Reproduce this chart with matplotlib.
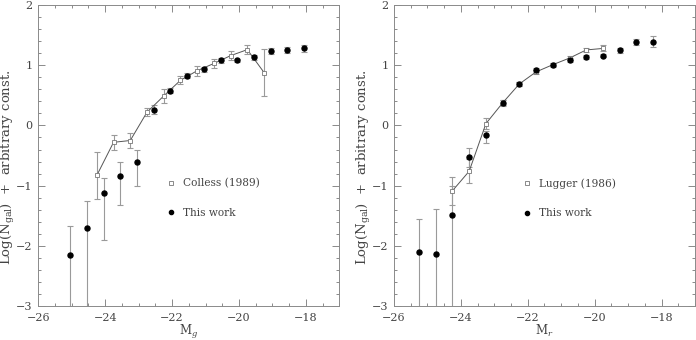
import numpy as np
import matplotlib
matplotlib.use("Agg")
import matplotlib.pyplot as plt
from matplotlib.ticker import MultipleLocator
from matplotlib.lines import Line2D

plt.rcParams['font.family'] = ['DejaVu Serif']
plt.rcParams['mathtext.fontset'] = 'dejavuserif'

# g band: Colless (1989) comparison
colless_mag = [-24.25, -23.75, -23.25, -22.75, -22.25, -21.75, -21.25, -20.75, -20.25, -19.75, -19.25]
colless_lf = [-0.83, -0.28, -0.25, 0.22, 0.49, 0.75, 0.91, 1.03, 1.16, 1.26, 0.88]
colless_err = [0.39, 0.12, 0.12, 0.07, 0.11, 0.065, 0.08, 0.07, 0.08, 0.08, 0.39]

g_mag = [-25.05, -24.55, -24.05, -23.55, -23.05, -22.55, -22.05, -21.55, -21.05, -20.55,
         -20.05, -19.55, -19.05, -18.55, -18.05]
g_lf = [-2.15, -1.70, -1.13, -0.84, -0.61, 0.265, 0.575, 0.825, 0.93, 1.085,
        1.08, 1.13, 1.235, 1.26, 1.28]
g_err_lo = [1.2, 1.5, 0.77, 0.48, 0.40, 0.08, 0.04, 0.04, 0.04, 0.04, 0.03, 0.04, 0.05, 0.05, 0.06]
g_err_hi = [0.48, 0.45, 0.26, 0.225, 0.21, 0.08, 0.04, 0.04, 0.04, 0.04, 0.03, 0.04, 0.05, 0.05, 0.06]

# r band: Lugger (1986) comparison
lugger_mag = [-24.25, -23.75, -23.25, -22.75, -22.25, -21.75, -21.25, -20.75, -20.25, -19.75]
lugger_lf = [-1.085, -0.76, 0.03, 0.375, 0.69, 0.89, 1.01, 1.12, 1.255, 1.28]
lugger_err = [0.23, 0.2, 0.09, 0.04, 0.03, 0.03, 0.03, 0.03, 0.03, 0.05]

r_mag = [-25.25, -24.75, -24.25, -23.75, -23.25, -22.75, -22.25, -21.75, -21.25, -20.75,
         -20.25, -19.75, -19.25, -18.75, -18.25]
r_lf = [-2.11, -2.14, -1.48, -0.52, -0.155, 0.375, 0.685, 0.925, 1.0, 1.09,
        1.14, 1.16, 1.25, 1.38, 1.39]
r_err_lo = [1.2, 1.2, 1.8, 0.17, 0.14, 0.05, 0.03, 0.03, 0.03, 0.03, 0.03, 0.03, 0.04, 0.05, 0.09]
r_err_hi = [0.55, 0.75, 0.47, 0.15, 0.07, 0.05, 0.03, 0.03, 0.03, 0.03, 0.03, 0.03, 0.04, 0.05, 0.09]

axis_col = '#8a8a8a'
text_col = '#444444'
err_col = '#9a9a9a'


def panel(ax, ref_mag, ref_lf, ref_err, ref_label, mag, lf, err_lo, err_hi, xlab):
    ax.errorbar(ref_mag, ref_lf, yerr=ref_err, fmt='none', ecolor=err_col,
                elinewidth=0.8, capsize=2, capthick=0.8, zorder=2)
    ax.errorbar(mag, lf, yerr=[err_lo, err_hi], fmt='none', ecolor=err_col,
                elinewidth=0.8, capsize=2, capthick=0.8, zorder=2)
    ax.plot(ref_mag, ref_lf, color='#555555', lw=0.7, zorder=3)
    ax.plot(ref_mag, ref_lf, ls='none', marker='s', ms=3, mfc='white',
            mec='#777777', mew=0.6, zorder=4)
    ax.plot(mag, lf, ls='none', marker='o', ms=3.6, color='black', zorder=5)

    ax.set_xlim(-26, -17)
    ax.set_ylim(-3, 2)
    ax.xaxis.set_major_locator(MultipleLocator(2))
    ax.xaxis.set_minor_locator(MultipleLocator(0.5))
    ax.yaxis.set_major_locator(MultipleLocator(1))
    ax.yaxis.set_minor_locator(MultipleLocator(0.2))
    ax.tick_params(which='both', direction='in', top=True, right=True,
                   color=axis_col, width=0.7, labelsize=8, labelcolor=text_col)
    ax.tick_params(which='major', length=5)
    ax.tick_params(which='minor', length=2.5)
    ax.tick_params(axis='x', pad=5)
    ax.tick_params(axis='y', pad=4)
    for s in ax.spines.values():
        s.set_color(axis_col)
        s.set_linewidth(0.7)
    ax.set_xlabel(xlab, fontsize=8.5, color=text_col)
    ax.xaxis.set_label_coords(0.5, -0.055, transform=ax.transAxes)
    ax.xaxis.label.set_va('top')
    ax.set_ylabel(r'Log(N$_{\rm gal}$)  +  arbitrary const.', fontsize=9.5,
                  color=text_col)
    ax.yaxis.set_label_coords(-0.1, 0.463)
    ax.yaxis.label.set_va('center')

    handles = [Line2D([], [], ls='none', marker='s', ms=3, mfc='white', mec='#777777',
                      mew=0.6, label=ref_label),
               Line2D([], [], ls='none', marker='o', ms=3, color='black', label='This work')]
    leg = ax.legend(handles=handles, loc='upper left', bbox_to_anchor=(0.428, 0.425),
                    frameon=False, fontsize=7.6, labelspacing=1.85, handlelength=0.8,
                    handletextpad=0.7, borderpad=0, borderaxespad=0)
    for t in leg.get_texts():
        t.set_color(text_col)


fig = plt.figure(figsize=(6.96, 3.4), dpi=100)
ax1 = fig.add_axes([0.055, 0.1, 0.4325, 0.885])
ax2 = fig.add_axes([0.566, 0.1, 0.4325, 0.885])

panel(ax1, colless_mag, colless_lf, colless_err, 'Colless (1989)',
      g_mag, g_lf, g_err_lo, g_err_hi, r'M$_g$')
panel(ax2, lugger_mag, lugger_lf, lugger_err, 'Lugger (1986)',
      r_mag, r_lf, r_err_lo, r_err_hi, r'M$_r$')

fig.savefig('out.png', dpi=100)
